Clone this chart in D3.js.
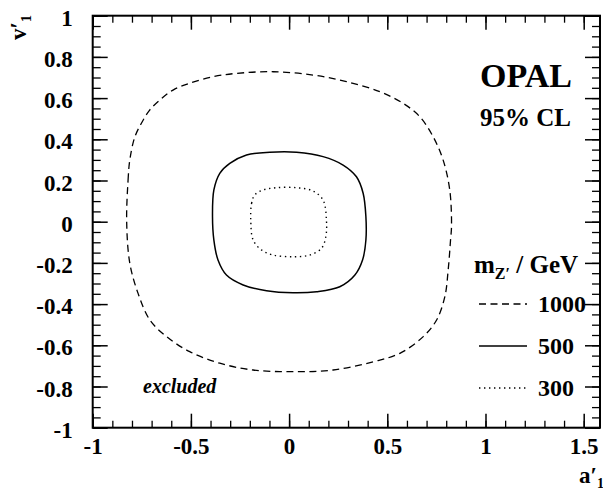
<!DOCTYPE html>
<html>
<head>
<meta charset="utf-8">
<script src="https://cdn.jsdelivr.net/npm/d3@7"></script>
<style>
  body { margin: 0; background: #fff; }
  svg { display: block; }
  text { font-family: "Liberation Serif", "Times New Roman", serif; font-weight: bold; fill: #000; }
</style>
</head>
<body>
<svg id="chart" width="603" height="493"></svg>
<script>
// tick labels
const xMajorTicks = [-1, -0.5, 0, 0.5, 1, 1.5];
const yMajorTicks = [-1, -0.8, -0.6, -0.4, -0.2, 0, 0.2, 0.4, 0.6, 0.8, 1];

// 95% CL contours in the (a'1, v'1) plane
const contour1000 = [
  [-0.827, 0.000], [-0.820, 0.200], [-0.811, 0.300], [-0.786, 0.410], [-0.752, 0.478],
  [-0.710, 0.542], [-0.658, 0.591], [-0.591, 0.639], [-0.506, 0.672], [-0.387, 0.704],
  [-0.268, 0.720], [-0.080, 0.728], [0.122, 0.712], [0.292, 0.680], [0.462, 0.631],
  [0.580, 0.575], [0.665, 0.510], [0.733, 0.413], [0.784, 0.300], [0.818, 0.154],
  [0.827, -0.020], [0.822, -0.089], [0.810, -0.234], [0.793, -0.364], [0.751, -0.477],
  [0.683, -0.558], [0.564, -0.639], [0.428, -0.680], [0.224, -0.720], [0.020, -0.728],
  [-0.183, -0.720], [-0.353, -0.687], [-0.506, -0.631], [-0.624, -0.558], [-0.709, -0.477],
  [-0.769, -0.348], [-0.811, -0.202]
];
const contour500 = [
  [-0.390, 0.024], [-0.383, 0.154], [-0.353, 0.235], [-0.302, 0.283], [-0.217, 0.324],
  [-0.098, 0.337], [0.038, 0.337], [0.173, 0.316], [0.275, 0.275], [0.343, 0.218],
  [0.377, 0.138], [0.391, 0.024], [0.391, -0.089], [0.374, -0.186], [0.335, -0.259],
  [0.258, -0.316], [0.140, -0.340], [0.020, -0.345], [-0.115, -0.335], [-0.234, -0.307],
  [-0.319, -0.259], [-0.362, -0.186], [-0.383, -0.089]
];
const contour300 = [
  [-0.195, 0.000], [-0.191, 0.089], [-0.175, 0.130], [-0.132, 0.154], [-0.064, 0.165],
  [0.038, 0.165], [0.122, 0.149], [0.173, 0.105], [0.190, 0.008], [0.187, -0.073],
  [0.165, -0.129], [0.105, -0.162], [0.020, -0.170], [-0.081, -0.162], [-0.141, -0.137],
  [-0.183, -0.089]
];

const series = [
  { label: "1000", pts: contour1000, dash: "7,4.5", width: 1.3 },
  { label: "500",  pts: contour500,  dash: null,    width: 1.5 },
  { label: "300",  pts: contour300,  dash: "1.4,3.6", width: 1.4 }
];

const svg = d3.select("#chart");
const mLeft = 92.7, mRight = 600, mTop = 15.7, mBottom = 427.7;

const x = d3.scaleLinear().domain([-1, 1.583]).range([mLeft, mRight]);
const y = d3.scaleLinear().domain([-1, 1]).range([mBottom, mTop]);

const fmt = d => String(+d.toFixed(2));

// minor ticks (no labels)
const xMinor = d3.range(-10, 16).map(i => i / 10);
const yMinor = d3.range(-20, 21).map(i => i / 20);

function styleAxis(g, width) {
  g.select(".domain").remove();
  g.selectAll(".tick line").attr("stroke", "#000").attr("stroke-width", width);
}

svg.append("g").attr("transform", `translate(0,${mBottom})`)
  .call(d3.axisBottom(x).tickValues(xMinor).tickSize(-7).tickFormat(""))
  .call(g => styleAxis(g, 1.3));
svg.append("g").attr("transform", `translate(0,${mTop})`)
  .call(d3.axisTop(x).tickValues(xMinor).tickSize(-7).tickFormat(""))
  .call(g => styleAxis(g, 1.3));
svg.append("g").attr("transform", `translate(${mLeft},0)`)
  .call(d3.axisLeft(y).tickValues(yMinor).tickSize(-8).tickFormat(""))
  .call(g => styleAxis(g, 1.3));
svg.append("g").attr("transform", `translate(${mRight},0)`)
  .call(d3.axisRight(y).tickValues(yMinor).tickSize(-8).tickFormat(""))
  .call(g => styleAxis(g, 1.3));

// major ticks with labels
svg.append("g").attr("transform", `translate(0,${mBottom})`)
  .call(d3.axisBottom(x).tickValues(xMajorTicks).tickSize(-14).tickPadding(10).tickFormat(fmt))
  .call(g => styleAxis(g, 1.5))
  .call(g => g.selectAll("text").attr("font-size", 23).attr("fill", "#000"));
svg.append("g").attr("transform", `translate(0,${mTop})`)
  .call(d3.axisTop(x).tickValues(xMajorTicks).tickSize(-14).tickFormat(""))
  .call(g => styleAxis(g, 1.5));
svg.append("g").attr("transform", `translate(${mLeft},0)`)
  .call(d3.axisLeft(y).tickValues(yMajorTicks).tickSize(-15).tickPadding(20).tickFormat(fmt))
  .call(g => styleAxis(g, 1.5))
  .call(g => g.selectAll("text").attr("font-size", 23).attr("dy", "0.42em").attr("fill", "#000"));
svg.append("g").attr("transform", `translate(${mRight},0)`)
  .call(d3.axisRight(y).tickValues(yMajorTicks).tickSize(-15).tickFormat(""))
  .call(g => styleAxis(g, 1.5));

// frame
svg.append("rect")
  .attr("x", mLeft).attr("y", mTop)
  .attr("width", mRight - mLeft).attr("height", mBottom - mTop)
  .attr("fill", "none").attr("stroke", "#000").attr("stroke-width", 2);

// contours
const line = d3.line()
  .x(d => x(d[0]))
  .y(d => y(d[1]))
  .curve(d3.curveCatmullRomClosed.alpha(0.5));

svg.append("g").selectAll("path")
  .data(series)
  .join("path")
  .attr("d", d => line(d.pts))
  .attr("fill", "none")
  .attr("stroke", "#000")
  .attr("stroke-width", d => d.width)
  .attr("stroke-dasharray", d => d.dash);

// axis titles
const xt = svg.append("text").attr("x", 579).attr("y", 483).attr("font-size", 23);
xt.append("tspan").text("a′");
xt.append("tspan").attr("font-size", 14).attr("dy", 5).attr("dx", 0).text("1");

const yt = svg.append("text").attr("transform", "translate(26,40) rotate(-90)").attr("font-size", 23);
yt.append("tspan").text("v′");
yt.append("tspan").attr("font-size", 14).attr("dy", 5).attr("dx", 0).text("1");

// labels
svg.append("text").attr("x", 572).attr("y", 87).attr("text-anchor", "end")
  .attr("font-size", 34).text("OPAL");
svg.append("text").attr("x", 571).attr("y", 126).attr("text-anchor", "end")
  .attr("font-size", 25).text("95% CL");
svg.append("text").attr("x", 143).attr("y", 393)
  .attr("font-size", 20).attr("font-style", "italic").text("excluded");

// legend
const lt = svg.append("text").attr("x", 474).attr("y", 273).attr("font-size", 25);
lt.append("tspan").text("m");
lt.append("tspan").attr("font-size", 16).attr("dy", 6).text("Z′");
lt.append("tspan").attr("dy", -6).text(" / GeV");

const leg = svg.append("g").selectAll("g")
  .data(series)
  .join("g")
  .attr("transform", (d, i) => `translate(0,${304 + i * 42})`);
leg.append("line")
  .attr("x1", 479).attr("x2", 527)
  .attr("stroke", "#000")
  .attr("stroke-width", d => d.width)
  .attr("stroke-dasharray", d => d.dash);
leg.append("text")
  .attr("x", 538).attr("y", 8)
  .attr("font-size", 24)
  .text(d => d.label);
</script>
</body>
</html>
